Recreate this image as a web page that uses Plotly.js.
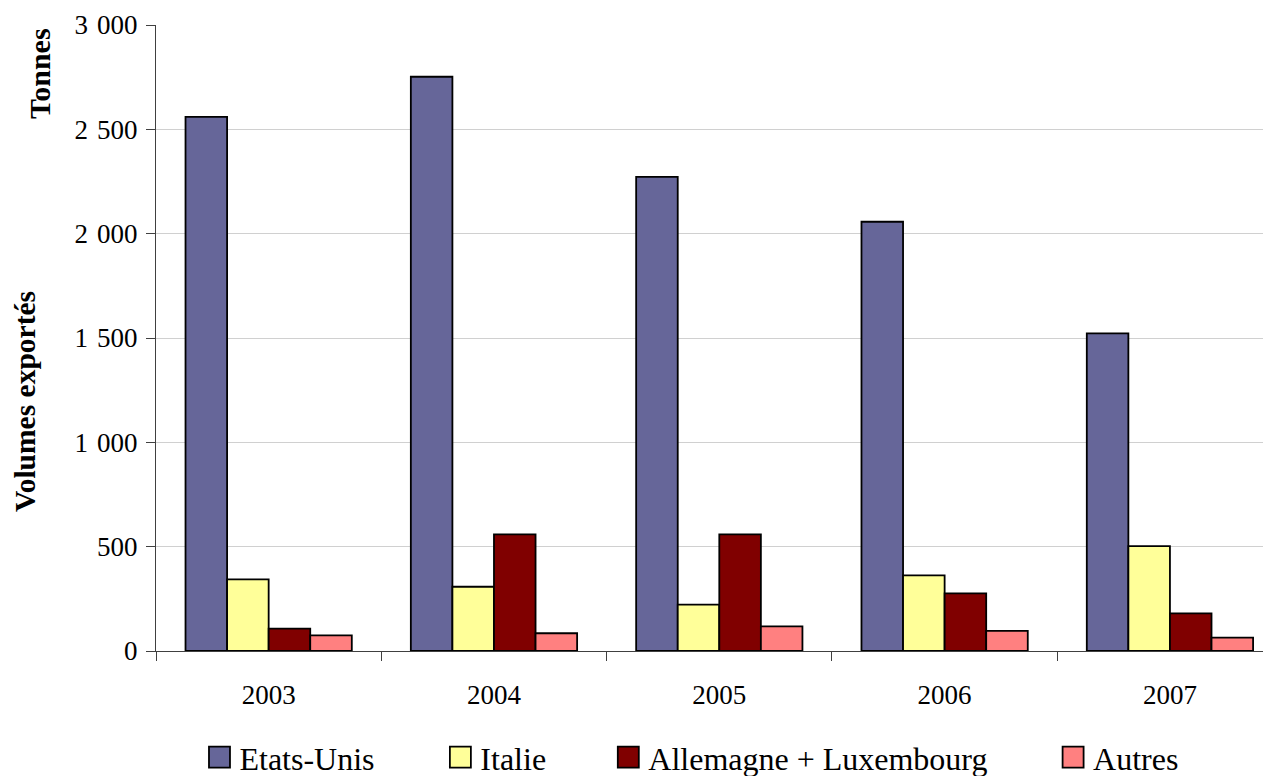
<!DOCTYPE html>
<html>
<head>
<meta charset="utf-8">
<script src="https://cdn.plot.ly/plotly-3.0.1.min.js"></script>
<style>
html,body{margin:0;padding:0;background:#fff;overflow:hidden;}
</style>
</head>
<body>
<div id="chart" style="width:1263px;height:776px;"></div>
<script>
const years = ['2003','2004','2005','2006','2007'];
const seriesNames = ['Etats-Unis','Italie','Allemagne + Luxembourg','Autres'];
const etatsUnis = [2560, 2752, 2272, 2057, 1522];
const italie = [343, 308, 222, 362, 503];
const allemagneLux = [107, 559, 559, 276, 180];
const autres = [75, 85, 118, 96, 64];
const colors = ['#666699','#FFFF99','#800000','#FF8080'];
const yTicks = [0, 500, 1000, 1500, 2000, 2500, 3000];

const W = 1263, H = 776;
const L = 155.5, T = 24.5, B = 650.7;
const PW = W - L, PH = B - T;
const px2x = p => (p - L) / PW;
const py2y = p => (B - p) / PH;

const values = [etatsUnis, italie, allemagneLux, autres];
const legendLeft = [209, 450, 618, 1063];

const traces = values.map((v, i) => ({
  type: 'bar',
  name: seriesNames[i],
  x: years,
  y: v,
  marker: {color: colors[i], line: {color: '#000', width: 1.8}},
  legend: i === 0 ? 'legend' : 'legend' + (i + 1),
  hoverinfo: 'x+y+name'
}));

const FAM = 'Liberation Serif, Times New Roman, serif';
const font = {family: FAM, color: '#000'};

const layout = {
  width: W, height: H,
  margin: {l: L, r: 0, t: T, b: H - B, pad: 0, autoexpand: false},
  paper_bgcolor: '#fff', plot_bgcolor: '#fff',
  font: Object.assign({}, font, {size: 27}),
  separators: ',\u2004',
  barmode: 'group',
  bargap: 0.262,
  bargroupgap: 0,
  xaxis: {
    type: 'category',
    range: [-0.5, 4.413],
    showline: true, linecolor: '#404040', linewidth: 1.3,
    ticks: 'outside', tickson: 'boundaries', ticklen: 9, tickcolor: '#404040', tickwidth: 1.3,
    showgrid: false, zeroline: false,
    tickfont: Object.assign({}, font, {size: 27}),
    ticklabelstandoff: 19
  },
  yaxis: {
    range: [0, 3000],
    tickvals: yTicks,
    tickformat: ',d',
    showline: true, linecolor: '#404040', linewidth: 1.3,
    ticks: 'outside', ticklen: 9, tickcolor: '#404040', tickwidth: 1.3,
    showgrid: true, gridcolor: '#d0d0d0', gridwidth: 1.2,
    zeroline: false,
    tickfont: Object.assign({}, font, {size: 27}),
    ticklabelstandoff: 3
  },
  annotations: [
    {text: '<b>Tonnes</b>', textangle: -90, xref: 'paper', yref: 'paper',
     x: px2x(39), y: py2y(73), xanchor: 'center', yanchor: 'middle', showarrow: false,
     font: Object.assign({}, font, {size: 30})},
    {text: '<b>Volumes exportés</b>', textangle: -90, xref: 'paper', yref: 'paper',
     x: px2x(25), y: py2y(401), xanchor: 'center', yanchor: 'middle', showarrow: false,
     font: Object.assign({}, font, {size: 29.5})}
  ],
  showlegend: true
};

seriesNames.forEach((n, i) => {
  const key = i === 0 ? 'legend' : 'legend' + (i + 1);
  layout[key] = {
    orientation: 'h',
    x: px2x(legendLeft[i] - 10), y: py2y(757),
    xanchor: 'left', yanchor: 'middle',
    xref: 'paper', yref: 'paper',
    bgcolor: 'rgba(0,0,0,0)', borderwidth: 0,
    font: Object.assign({}, font, {size: 32}),
    itemclick: false, itemdoubleclick: false
  };
});

function bigSwatches() {
  document.querySelectorAll('.legendpoints path').forEach(p => {
    p.setAttribute('d', 'M10.5,10.5H-10.5V-10.5H10.5Z');
  });
}

Plotly.newPlot('chart', traces, layout, {displayModeBar: false}).then(gd => {
  bigSwatches();
  gd.on('plotly_afterplot', bigSwatches);
});
</script>
</body>
</html>
